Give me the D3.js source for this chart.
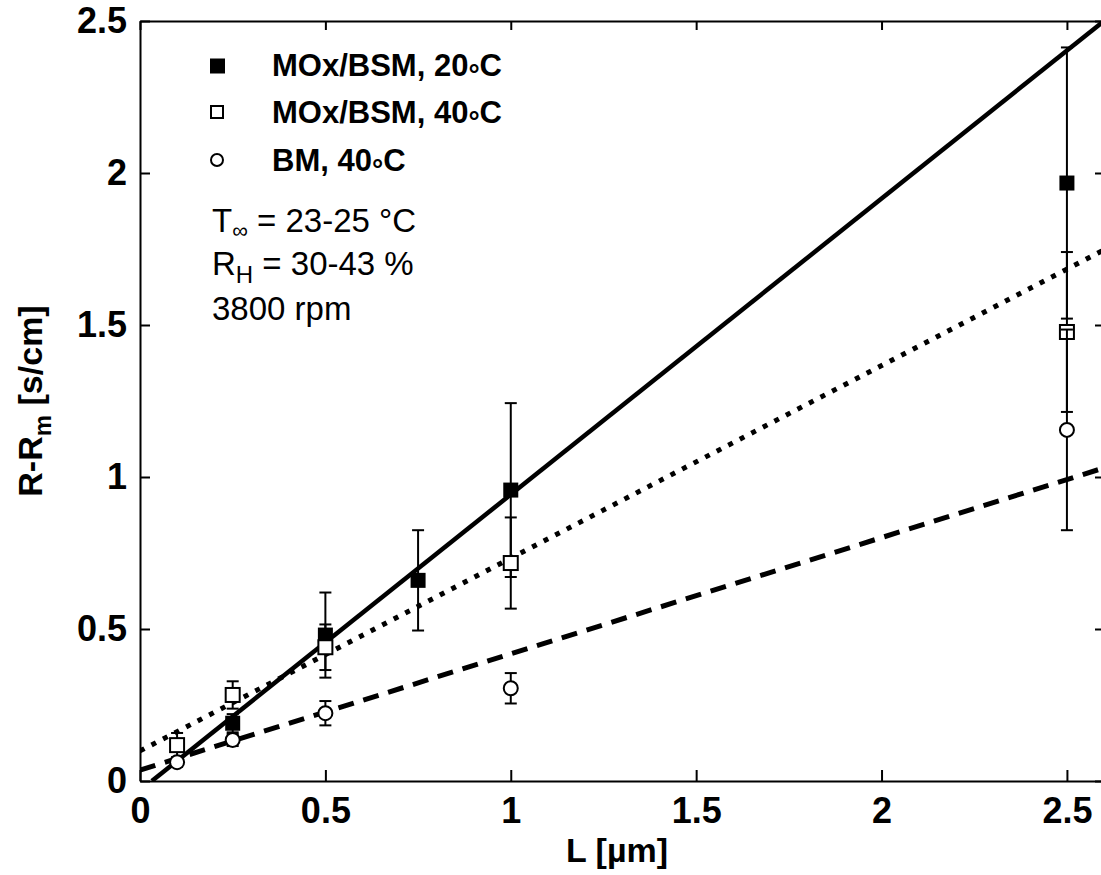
<!DOCTYPE html>
<html><head><meta charset="utf-8">
<script src="https://cdn.jsdelivr.net/npm/d3@7"></script>
<style>body{margin:0;background:#fff}</style>
</head><body>
<svg id="c" width="1101" height="875"></svg>
<script>
const xTicks = [0, 0.5, 1, 1.5, 2, 2.5];
const yTicks = [0, 0.5, 1, 1.5, 2, 2.5];
const xTickLabels = ["0", "0.5", "1", "1.5", "2", "2.5"];
const yTickLabels = ["0", "0.5", "1", "1.5", "2", "2.5"];

const filledX = [0.25, 0.5, 0.75, 1.0, 2.5];
const filledY = [0.19, 0.48, 0.66, 0.957, 1.967];
const filledErr = [0.03, 0.14, 0.165, 0.286, 0.446];

const openX = [0.1, 0.25, 0.5, 1.0, 2.5];
const openY = [0.118, 0.283, 0.44, 0.717, 1.477];
const openErr = [0.04, 0.045, 0.075, 0.15, 0.263];

const circX = [0.1, 0.25, 0.5, 1.0, 2.5];
const circY = [0.062, 0.135, 0.223, 0.305, 1.155];
const circErr = [0.015, 0.02, 0.04, 0.05, 0.33];

const solidFit = [[0.032, 0], [2.6, 2.5]];
const dottedFit = [[0, 0.099], [2.6, 1.747]];
const dashedFit = [[0, 0.036], [2.6, 1.03]];

const legendNames = ["MOx/BSM, 20", "MOx/BSM, 40", "BM, 40"];
const xTitle = "L [\u00b5m]";

const svg = d3.select("#c");
const L = 140, R = 1104, T = 21, B = 781;
const x = d3.scaleLinear().domain([0, 2.6]).range([L, R]);
const y = d3.scaleLinear().domain([0, 2.5]).range([B, T]);
const FONT = "Arial, 'Liberation Sans', sans-serif";

svg.append("defs").append("clipPath").attr("id", "clip")
  .append("rect").attr("x", L).attr("y", T).attr("width", R - L).attr("height", B - T);

// axes
const ax = svg.append("g").attr("font-family", FONT);
const fmtX = d => xTickLabels[xTicks.indexOf(d)];
const fmtY = d => yTickLabels[yTicks.indexOf(d)];
function styleAxis(g) {
  g.select(".domain").attr("stroke", "#000").attr("stroke-width", 2);
  g.selectAll(".tick line").attr("stroke", "#000").attr("stroke-width", 2);
  g.selectAll(".tick text").attr("font-size", 36).attr("font-weight", "bold").attr("fill", "#000").attr("font-family", FONT);
}
ax.append("g").attr("transform", `translate(0,${B})`)
  .call(d3.axisBottom(x).tickValues(xTicks).tickFormat(fmtX).tickSize(-11).tickSizeOuter(0).tickPadding(16))
  .call(styleAxis);
ax.append("g").attr("transform", `translate(${L},0)`)
  .call(d3.axisLeft(y).tickValues(yTicks).tickFormat(fmtY).tickSize(-10).tickSizeOuter(0).tickPadding(13))
  .call(styleAxis);
ax.append("g").attr("transform", `translate(0,${T})`)
  .call(d3.axisTop(x).tickValues(xTicks).tickFormat("").tickSize(-9).tickSizeOuter(0))
  .call(styleAxis);
ax.append("g").attr("transform", `translate(${R},0)`)
  .call(d3.axisRight(y).tickValues(yTicks).tickFormat("").tickSize(-9).tickSizeOuter(0))
  .call(styleAxis);

// fit lines
const line = d3.line().x(d => x(d[0])).y(d => y(d[1]));
const lg = svg.append("g").attr("clip-path", "url(#clip)").attr("fill", "none").attr("stroke", "#000");
lg.append("path").attr("d", line(dashedFit)).attr("stroke-width", 5).attr("stroke-dasharray", "16,10");
lg.append("path").attr("d", line(dottedFit)).attr("stroke-width", 5).attr("stroke-dasharray", "5,8");
lg.append("path").attr("d", line(solidFit)).attr("stroke-width", 4.5);

// series
function errorBars(g, xs, ys, es) {
  const cap = 6;
  xs.forEach((xv, i) => {
    const cx = x(xv), y1 = y(ys[i] + es[i]), y2 = y(ys[i] - es[i]);
    g.append("line").attr("x1", cx).attr("x2", cx).attr("y1", y1).attr("y2", y2);
    g.append("line").attr("x1", cx - cap).attr("x2", cx + cap).attr("y1", y1).attr("y2", y1);
    g.append("line").attr("x1", cx - cap).attr("x2", cx + cap).attr("y1", y2).attr("y2", y2);
  });
}
const sg = svg.append("g").attr("stroke", "#000").attr("stroke-width", 2);

const g1 = sg.append("g");
errorBars(g1, filledX, filledY, filledErr);
filledX.forEach((xv, i) => g1.append("rect").attr("x", x(xv) - 7.5).attr("y", y(filledY[i]) - 7.5)
  .attr("width", 15).attr("height", 15).attr("fill", "#000").attr("stroke", "none"));

const g2 = sg.append("g");
errorBars(g2, openX, openY, openErr);
openX.forEach((xv, i) => g2.append("rect").attr("x", x(xv) - 7).attr("y", y(openY[i]) - 7)
  .attr("width", 14).attr("height", 14).attr("fill", "#fff"));

const g3 = sg.append("g");
errorBars(g3, circX, circY, circErr);
circX.forEach((xv, i) => g3.append("circle").attr("cx", x(xv)).attr("cy", y(circY[i]))
  .attr("r", 7).attr("fill", "#fff"));

// legend
const leg = svg.append("g").attr("font-family", FONT);
const legY = [66, 112, 160];
const legBase = [76, 123, 171];
leg.append("rect").attr("x", 210).attr("y", legY[0] - 7.5).attr("width", 15).attr("height", 15).attr("fill", "#000");
leg.append("rect").attr("x", 211).attr("y", legY[1] - 6).attr("width", 12).attr("height", 12).attr("fill", "#fff").attr("stroke", "#000").attr("stroke-width", 2);
leg.append("circle").attr("cx", 217).attr("cy", legY[2]).attr("r", 6).attr("fill", "#fff").attr("stroke", "#000").attr("stroke-width", 2);
legendNames.forEach((t, i) => {
  const tx = leg.append("text").attr("x", 272).attr("y", legBase[i])
    .attr("font-size", 31).attr("font-weight", "bold");
  tx.append("tspan").text(t);
  tx.append("tspan").attr("dy", 8).attr("font-size", 28).text("\u00b0");
  tx.append("tspan").attr("dy", -8).text("C");
});

// annotation
const an = svg.append("g").attr("font-family", FONT).attr("font-size", 33);
const t1 = an.append("text").attr("x", 212).attr("y", 232);
t1.append("tspan").text("T");
t1.append("tspan").attr("font-size", 22).attr("dy", 6).text("\u221e");
t1.append("tspan").attr("dy", -6).text(" = 23-25 \u00b0C");
const t2 = an.append("text").attr("x", 212).attr("y", 275);
t2.append("tspan").text("R");
t2.append("tspan").attr("font-size", 24).attr("dy", 8).text("H");
t2.append("tspan").attr("dy", -8).text(" = 30-43 %");
an.append("text").attr("x", 212).attr("y", 320).text("3800 rpm");

// axis titles
svg.append("text").attr("x", 617).attr("y", 862).attr("text-anchor", "middle")
  .attr("font-family", FONT).attr("font-size", 34).attr("font-weight", "bold").text(xTitle);
const yt = svg.append("text").attr("transform", "translate(42,401) rotate(-90)").attr("text-anchor", "middle")
  .attr("font-family", FONT).attr("font-size", 34).attr("font-weight", "bold");
yt.append("tspan").text("R-R");
yt.append("tspan").attr("font-size", 24).attr("dy", 9).text("m");
yt.append("tspan").attr("dy", -9).text(" [s/cm]");
</script>
</body></html>
